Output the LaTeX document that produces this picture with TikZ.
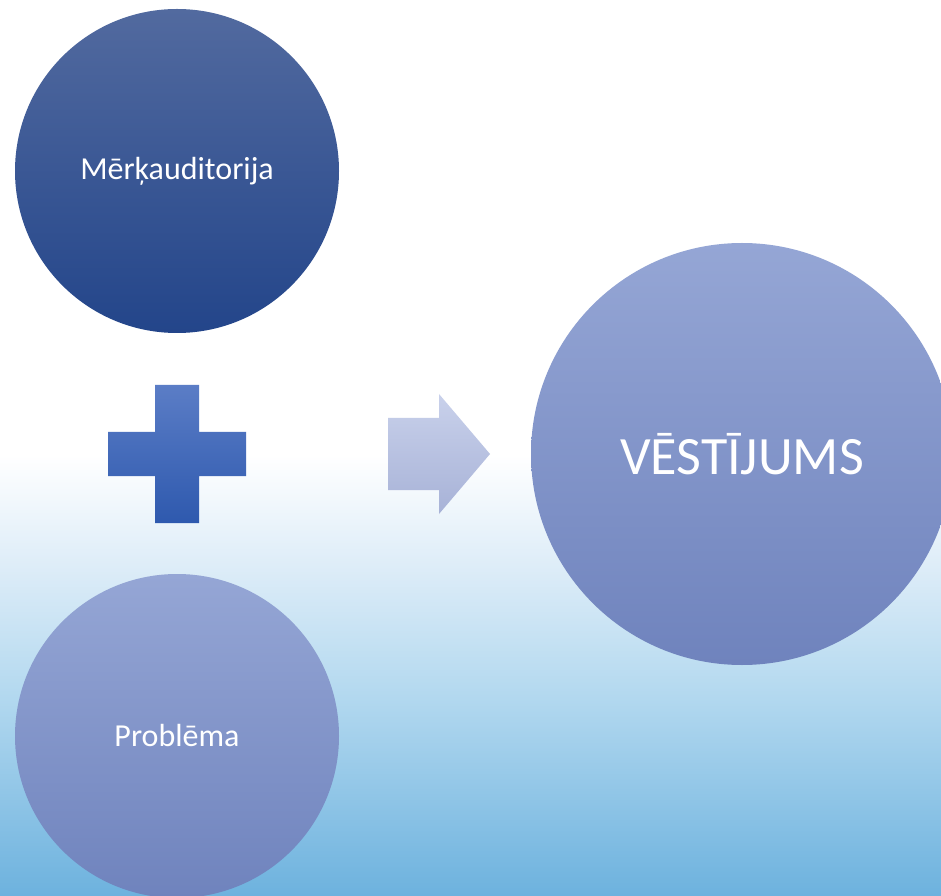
\documentclass[tikz,border=0pt]{standalone}
\usepackage{fontspec}
\setmainfont{Carlito}

\definecolor{darktop}{HTML}{526A9F}
\definecolor{darkbot}{HTML}{23458A}
\definecolor{softtop}{HTML}{95A6D5}
\definecolor{softbot}{HTML}{6F83BD}
\definecolor{plustop}{HTML}{5B7DC6}
\definecolor{plusbot}{HTML}{2E59AE}
\definecolor{arrowtop}{HTML}{C9D1EB}
\definecolor{arrowbot}{HTML}{A7B2D7}
\definecolor{bgbot}{HTML}{6DB2DE}
\definecolor{bgmid}{HTML}{B2D8EF}
\definecolor{bglight}{HTML}{DEEDF8}

\pgfdeclareverticalshading{backdrop}{100bp}{color(0bp)=(bgbot); color(25bp)=(bgbot); color(36bp)=(bgmid); color(43.5bp)=(bglight); color(49.6bp)=(white); color(100bp)=(white)}

\begin{document}
\begin{tikzpicture}[x=1pt,y=1pt,
  bubble/.style={circle,inner sep=0pt,minimum size=324pt,text=white,
    font=\fontsize{32}{38}\selectfont},
  darkbubble/.style={bubble,top color=darktop,bottom color=darkbot},
  softbubble/.style={bubble,top color=softtop,bottom color=softbot}]
\useasboundingbox (0,0) rectangle (941,895);
\shade[shading=backdrop] (0,0) rectangle (941,895);

\node [darkbubble] (audience) at (177,724) {Mērķauditorija};
\node [softbubble] (problem) at (177,159) {Problēma};
\node [softbubble,minimum size=422pt,font=\fontsize{54}{62}\selectfont] (message) at (742,441) {VĒSTĪJUMS};

% plus sign
\shade[top color=plustop,bottom color=plusbot]
  (155,510) -- (199,510) -- (199,463) -- (246,463) -- (246,419) -- (199,419)
  -- (199,372) -- (155,372) -- (155,419) -- (108,419) -- (108,463) -- (155,463) -- cycle;
% block arrow
\shade[top color=arrowtop,bottom color=arrowbot]
  (388,477) -- (439,477) -- (439,501) -- (490,441) -- (439,381) -- (439,405)
  -- (388,405) -- cycle;
\end{tikzpicture}
\end{document}
